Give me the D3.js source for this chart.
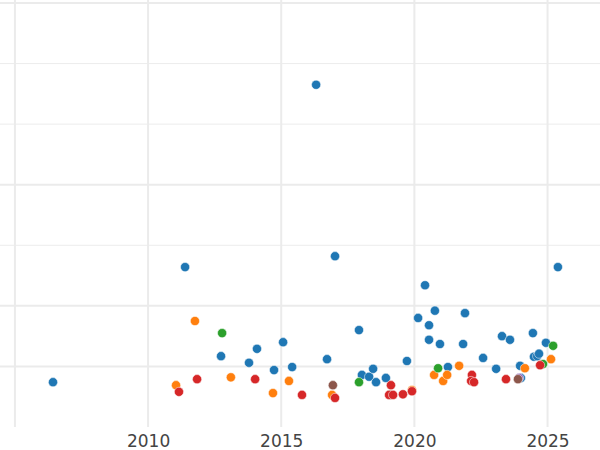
<!DOCTYPE html>
<html><head><meta charset="utf-8">
<script src="https://cdn.jsdelivr.net/npm/d3@7"></script>
<style>body{margin:0;background:#fff}</style></head>
<body><svg id="view1" width="600" height="450"></svg>
<script>
var blue = [[2006.43,0.74],[2011.39,2.64],[2016.31,5.65],[2017.02,2.82],[2012.74,1.17],[2013.79,1.06],[2014.09,1.29],[2014.73,0.94],[2015.07,1.40],[2015.41,0.99],[2016.72,1.12],[2017.92,1.60],[2018.03,0.86],[2018.30,0.83],[2018.45,0.96],[2018.56,0.74],[2018.93,0.81],[2019.72,1.09],[2020.14,1.80],[2020.40,2.34],[2020.55,1.68],[2020.55,1.44],[2020.77,1.92],[2020.96,1.37],[2021.26,0.99],[2021.83,1.37],[2021.90,1.88],[2022.58,1.14],[2023.07,0.96],[2023.29,1.50],[2023.59,1.44],[2023.97,1.01],[2024.00,0.81],[2024.45,1.55],[2024.49,1.16],[2024.61,1.17],[2024.68,1.21],[2024.94,1.39],[2025.39,2.64]];
var orange = [[2011.05,0.69],[2011.76,1.75],[2013.11,0.82],[2014.69,0.56],[2015.29,0.76],[2016.91,0.53],[2019.91,0.61],[2020.74,0.86],[2021.08,0.76],[2021.23,0.86],[2021.68,1.01],[2024.15,0.97],[2025.13,1.12]];
var green = [[2012.78,1.55],[2017.92,0.74],[2020.89,0.97],[2024.83,1.04],[2025.21,1.34],[2019.08,0.53]];
var red = [[2011.16,0.58],[2011.84,0.79],[2014.02,0.79],[2015.78,0.53],[2017.02,0.48],[2019.12,0.69],[2019.05,0.53],[2019.20,0.53],[2019.57,0.54],[2019.91,0.59],[2022.16,0.86],[2022.13,0.76],[2022.24,0.74],[2023.44,0.79],[2024.72,1.02]];
var purple = [[2023.93,0.81]];
var brown = [[2016.94,0.69],[2023.89,0.79]];
var xTicks = [2005, 2010, 2015, 2020, 2025];
var yMajor = [1, 2, 4, 7];
var yMinor = [3, 5, 6];

var svg = d3.select("#view1");
var x = d3.scaleLinear().domain([2004.44, 2026.97]).range([0, 600]);
var y = d3.scaleLinear().domain([0, 7]).range([427, 3]);

var grid = svg.append("g");
grid.selectAll(".mn").data(yMinor).enter().append("line")
    .attr("x1", 0).attr("x2", 600)
    .attr("y1", function(d) { return y(d); }).attr("y2", function(d) { return y(d); })
    .attr("stroke", "#ececec").attr("stroke-width", 1);
grid.selectAll(".mj").data(yMajor).enter().append("line")
    .attr("x1", 0).attr("x2", 600)
    .attr("y1", function(d) { return y(d); }).attr("y2", function(d) { return y(d); })
    .attr("stroke", "#ebebeb").attr("stroke-width", 2);
grid.selectAll(".vx").data(xTicks).enter().append("line")
    .attr("x1", function(d) { return x(d); }).attr("x2", function(d) { return x(d); })
    .attr("y1", 0).attr("y2", 427)
    .attr("stroke", "#ebebeb").attr("stroke-width", 2);

svg.append("g").attr("transform", "translate(0,427)")
    .call(d3.axisBottom(x).tickValues(xTicks.slice(1)).tickFormat(d3.format("d")).tickSize(0).tickPadding(8))
    .call(function(g) { g.select(".domain").remove(); })
    .selectAll("text").attr("fill", "#444").attr("font-size", 17)
    .attr("font-family", "DejaVu Sans");

var series = [[blue, "#1f77b4"], [orange, "#ff7f0e"], [green, "#2ca02c"], [red, "#d62728"], [purple, "#9467bd"], [brown, "#8c564b"]];
series.forEach(function(s) {
  svg.append("g").selectAll("circle").data(s[0]).enter().append("circle")
      .attr("cx", function(d) { return x(d[0]); })
      .attr("cy", function(d) { return y(d[1]); })
      .attr("r", 4.6)
      .attr("fill", s[1]).attr("stroke", "#fff").attr("stroke-width", 0.5);
});
</script></body></html>
